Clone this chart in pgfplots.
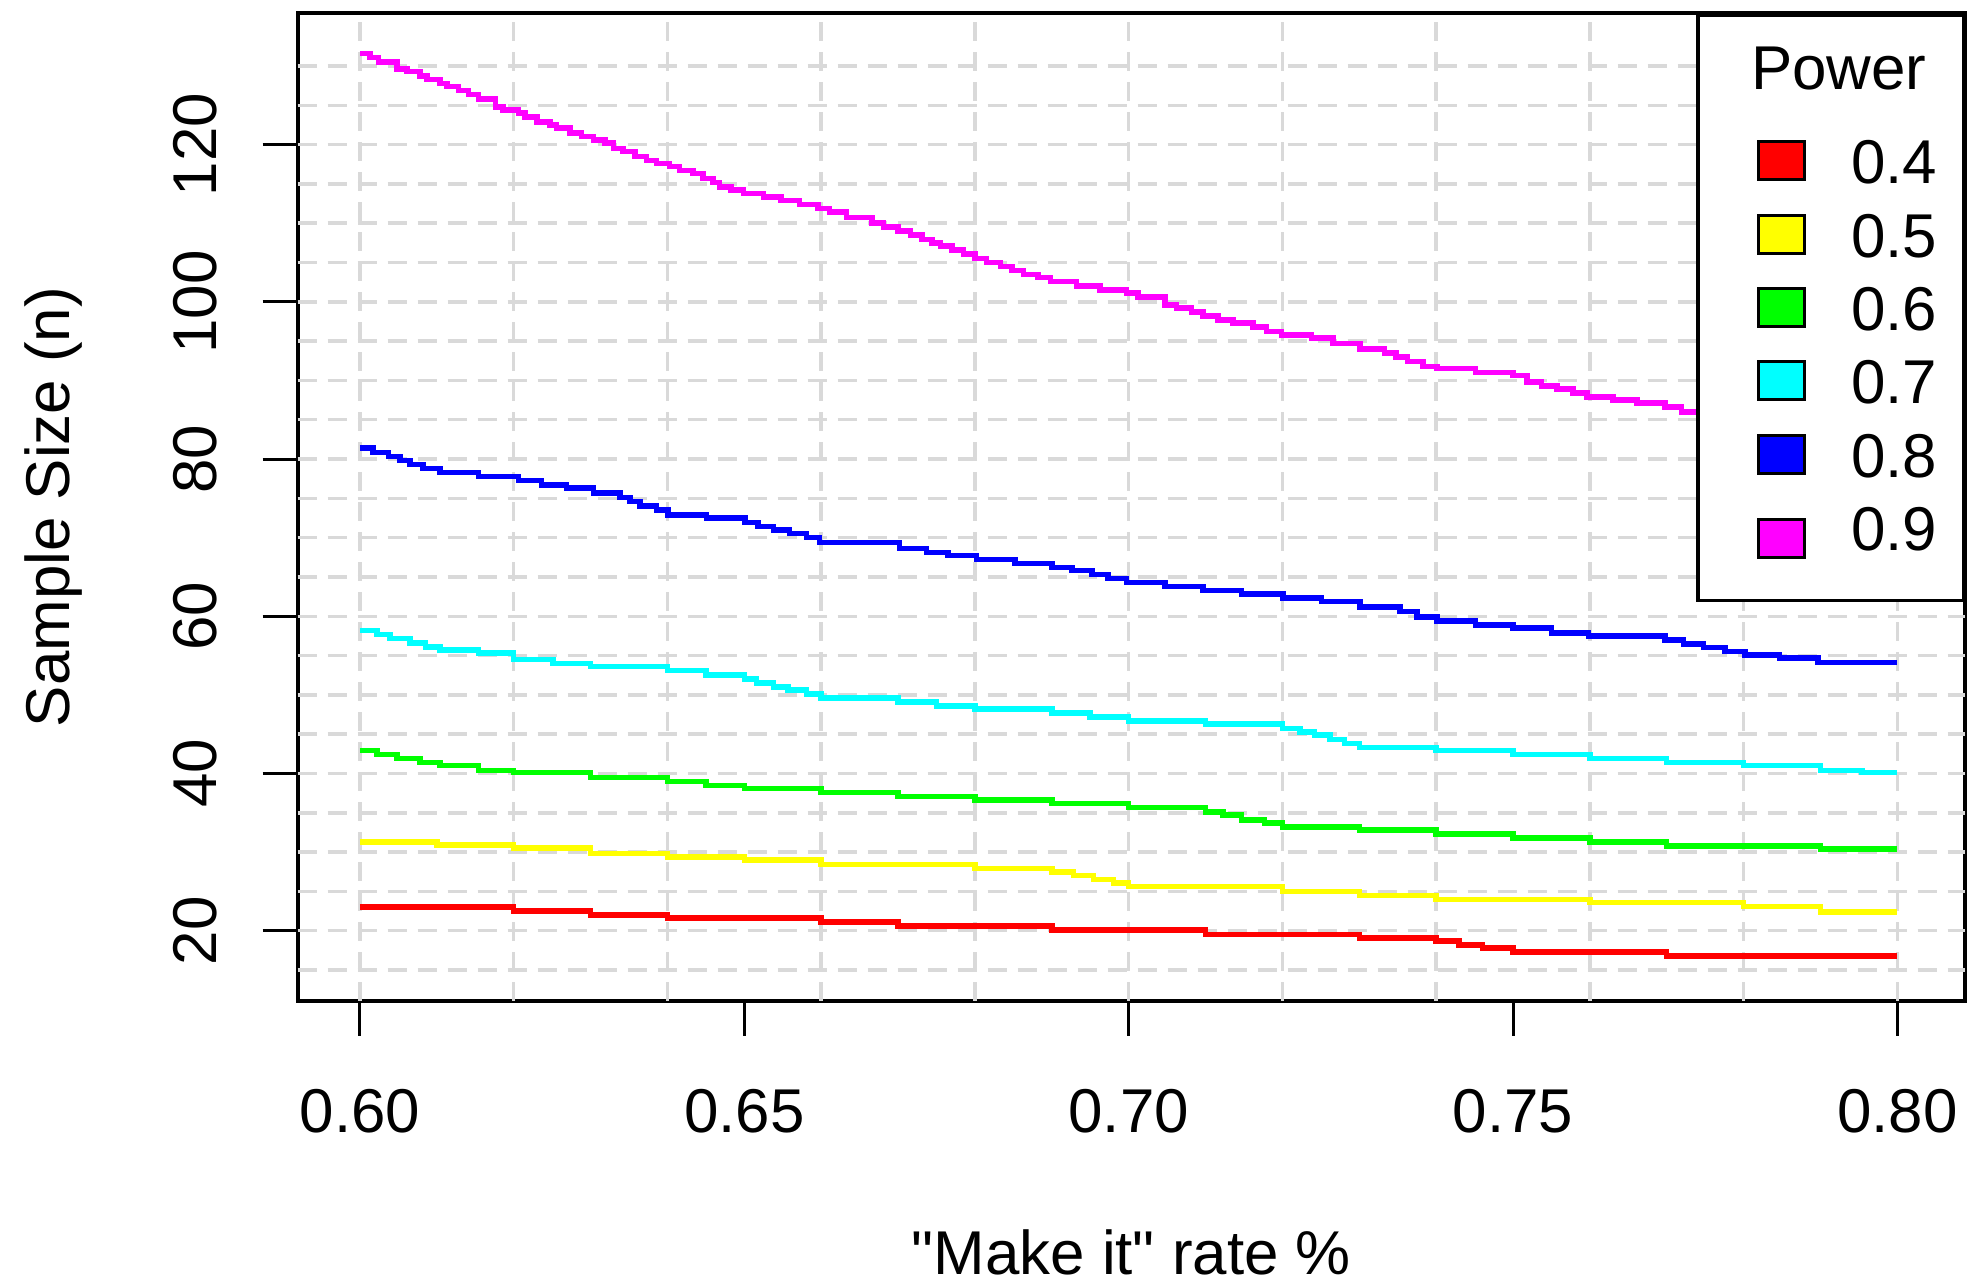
\documentclass[border=0pt]{standalone}
\usepackage{fontspec}
\setmainfont{Liberation Sans}
\newfontfamily\plainf[Ligatures=TeXOff]{Liberation Sans}
\usepackage{pgfplots}
\pgfplotsset{compat=1.18}
\newcommand\bigf{\fontsize{17.6}{21}\selectfont}
\definecolor{rred}{RGB}{255,0,0}
\definecolor{ryellow}{RGB}{255,255,0}
\definecolor{rgreen}{RGB}{0,255,0}
\definecolor{rcyan}{RGB}{0,255,255}
\definecolor{rblue}{RGB}{0,0,255}
\definecolor{rmagenta}{RGB}{255,0,255}

% one style per power curve: step line + filled square in the legend
\pgfplotsset{
  pw/.style={const plot, line width=0.055cm, #1,
    legend image code/.code={\path (-0.32cm,0);
      \draw[line width=0.03cm, draw=black, fill=#1] (0cm,-0.19cm) rectangle (0.46cm,0.19cm);}},
}

\begin{document}
\begin{tikzpicture}
\begin{axis}[
  at={(0,0)}, anchor=south west,
  scale only axis, width=16.673cm, height=9.874cm,
  xmin=0.5919, xmax=0.8088, ymin=11.1, ymax=136.7,
  axis line style={line width=0.04cm},
  tick align=outside, xtick pos=bottom, ytick pos=left,
  major tick length=0.35cm,
  tick style={line width=0.03cm, black},
  xtick={0.60,0.65,0.70,0.75,0.80},
  xticklabels={0.60,0.65,0.70,0.75,0.80},
  ytick={20,40,60,80,100,120},
  yticklabels={20,40,60,80,100,120},
  xticklabel style={font=\bigf, inner sep=0pt, text height=0.46cm, text depth=0pt, anchor=north},
  xticklabel shift=0.5cm,
  yticklabel style={font=\bigf, inner sep=0pt, text height=0.46cm, text depth=0pt, rotate=90, anchor=south},
  yticklabel shift=0.457cm,
  extra x ticks={0.60,0.62,0.64,0.66,0.68,0.70,0.72,0.74,0.76,0.78,0.80},
  extra y ticks={15,20,25,30,35,40,45,50,55,60,65,70,75,80,85,90,95,100,105,110,115,120,125,130},
  extra x tick labels={}, extra y tick labels={},
  extra tick style={grid=major, major tick length=0pt, tick style={draw=none}},
  major grid style={gray!30, line width=0.035cm, dash pattern=on 0.19cm off 0.11cm},
  xlabel={{\plainf "Make it" rate \%}},
  ylabel={Sample Size (n)},
  every axis x label/.style={at={(axis description cs:0.5,-0.277)}, anchor=base, font=\bigf},
  every axis y label/.style={at={(axis description cs:-0.1366,0.5)}, rotate=90, anchor=base, font=\bigf},
  legend cell align=left,
  legend style={at={(rel axis cs:1,1)}, anchor=north east, draw=black, line width=0.035cm,
    fill=white, inner xsep=0.26cm, inner ysep=0.28cm, row sep=0.274cm, column sep=0.45cm,
    font=\bigf, nodes={inner sep=0pt, text height=0.46cm, text depth=0pt}},
]
\addlegendimage{empty legend}
\addlegendentry[text depth=0.213cm]{\hspace*{-1.0cm}Power}

\addplot[pw=rred] coordinates {
(0.600,23.0)(0.620,22.5)(0.630,22.0)(0.640,21.6)(0.660,21.1)(0.670,20.6)(0.690,20.1)
(0.710,19.5)(0.730,19.1)(0.740,18.7)(0.743,18.2)(0.746,17.8)(0.750,17.3)(0.770,16.8)(0.800,16.8)};
\addlegendentry{0.4}

\addplot[pw=ryellow] coordinates {
(0.600,31.3)(0.610,30.9)(0.620,30.5)(0.630,29.8)(0.640,29.4)(0.650,29.0)(0.660,28.4)
(0.680,27.9)(0.690,27.5)(0.6928,27.0)(0.6954,26.5)(0.698,26.1)(0.700,25.6)(0.720,25.0)
(0.730,24.5)(0.740,24.0)(0.760,23.6)(0.780,23.1)(0.790,22.4)(0.800,22.4)};
\addlegendentry{0.5}

\addplot[pw=rgreen] coordinates {
(0.600,42.9)(0.6022,42.4)(0.6048,41.9)(0.6078,41.4)(0.6104,41.0)(0.6154,40.4)(0.620,40.1)
(0.630,39.5)(0.640,39.0)(0.645,38.5)(0.650,38.1)(0.660,37.6)(0.670,37.1)(0.680,36.6)
(0.690,36.2)(0.700,35.7)(0.710,35.1)(0.7123,34.7)(0.7147,34.1)(0.7177,33.7)(0.720,33.2)
(0.730,32.8)(0.740,32.3)(0.750,31.8)(0.760,31.3)(0.770,30.8)(0.790,30.4)(0.800,30.4)};
\addlegendentry{0.6}

\addplot[pw=rcyan] coordinates {
(0.600,58.2)(0.6022,57.7)(0.6039,57.2)(0.6065,56.6)(0.6085,56.1)(0.6104,55.7)(0.6154,55.3)
(0.620,54.5)(0.6251,54.0)(0.630,53.6)(0.640,53.1)(0.645,52.5)(0.650,52.0)(0.6516,51.5)
(0.6538,51.0)(0.6557,50.6)(0.6581,50.1)(0.660,49.6)(0.670,49.1)(0.675,48.6)(0.680,48.2)
(0.690,47.7)(0.695,47.2)(0.700,46.7)(0.710,46.3)(0.720,45.7)(0.7223,45.3)(0.7242,44.9)
(0.7262,44.3)(0.7281,43.8)(0.730,43.3)(0.740,42.9)(0.750,42.4)(0.760,41.9)(0.770,41.4)
(0.780,41.0)(0.790,40.4)(0.7954,40.1)(0.800,40.1)};
\addlegendentry{0.7}

\addplot[pw=rblue] coordinates {
(0.600,81.4)(0.6017,80.8)(0.6037,80.3)(0.6052,79.8)(0.6065,79.3)(0.6082,78.8)(0.6104,78.3)
(0.6154,77.8)(0.6206,77.3)(0.6236,76.7)(0.6269,76.3)(0.6304,75.7)(0.6338,75.1)(0.6351,74.6)
(0.6364,74.0)(0.6386,73.5)(0.6401,72.9)(0.6451,72.5)(0.6501,71.9)(0.6518,71.4)(0.6538,71.0)
(0.6559,70.5)(0.6581,70.0)(0.6598,69.4)(0.6702,68.6)(0.6737,68.1)(0.6765,67.7)(0.6802,67.2)
(0.6852,66.7)(0.6900,66.2)(0.6926,65.8)(0.6952,65.3)(0.6973,64.8)(0.6997,64.3)(0.7047,63.8)
(0.7097,63.3)(0.7147,62.8)(0.7201,62.3)(0.7251,61.9)(0.7301,61.2)(0.7353,60.6)(0.7375,59.9)
(0.7401,59.4)(0.7451,58.9)(0.7500,58.5)(0.7550,57.9)(0.7598,57.5)(0.7698,57.0)(0.7722,56.5)
(0.7748,56.0)(0.7776,55.5)(0.7802,55.1)(0.7847,54.7)(0.7897,54.1)(0.800,54.1)};
\addlegendentry{0.8}

\addplot[pw=rmagenta] coordinates {
(0.6000,131.6)(0.6013,131.1)(0.6024,130.5)(0.6048,129.6)(0.6061,129.3)(0.6078,128.7)
(0.6087,128.3)(0.6104,127.8)(0.6113,127.4)(0.6128,126.9)(0.6141,126.4)(0.6154,125.8)
(0.6176,124.8)(0.6186,124.4)(0.6206,124.0)(0.6215,123.5)(0.6230,122.9)(0.6247,122.5)
(0.6256,122.1)(0.6273,121.5)(0.6288,121.0)(0.6304,120.6)(0.6319,120.2)(0.6330,119.5)
(0.6342,119.1)(0.6358,118.5)(0.6373,118.0)(0.6386,117.6)(0.6403,117.2)(0.6416,116.7)
(0.6433,116.3)(0.6446,115.7)(0.6459,115.2)(0.6468,114.6)(0.6483,114.2)(0.6499,113.8)
(0.6525,113.3)(0.6548,112.9)(0.6572,112.4)(0.6596,111.9)(0.6611,111.4)(0.6633,110.7)
(0.6666,110.0)(0.6681,109.5)(0.6700,109.0)(0.6716,108.5)(0.6731,107.9)(0.6744,107.5)
(0.6755,107.1)(0.6770,106.6)(0.6785,106.1)(0.6800,105.5)(0.6815,105.0)(0.6833,104.5)
(0.6848,104.0)(0.6863,103.5)(0.6882,103.1)(0.6898,102.6)(0.6932,102.0)(0.6963,101.5)
(0.6997,101.1)(0.7012,100.6)(0.7047,99.6)(0.7062,99.2)(0.7082,98.7)(0.7097,98.2)
(0.7116,97.7)(0.7136,97.3)(0.7162,96.8)(0.7179,96.2)(0.7199,95.8)(0.7238,95.4)
(0.7266,94.7)(0.7301,94.0)(0.7333,93.5)(0.7348,93.0)(0.7363,92.4)(0.7383,91.8)
(0.7401,91.5)(0.7451,91.0)(0.7500,90.6)(0.7518,89.8)(0.7537,89.3)(0.7557,88.9)
(0.7578,88.4)(0.7596,87.9)(0.7630,87.5)(0.7661,87.1)(0.7698,86.6)(0.7719,86.0)
(0.7750,85.5)(0.7800,85.0)(0.7850,84.2)(0.7900,83.5)(0.7950,82.8)(0.8000,82.8)};
\addlegendentry[text depth=0.22cm]{0.9}

\coordinate (bl) at (rel axis cs:0,0);
\coordinate (tr) at (rel axis cs:1,1);
\end{axis}
\pgfresetboundingbox
\path ([shift={(-2.977cm,-2.843cm)}]bl) rectangle ([shift={(0.08cm,0.133cm)}]tr);
\end{tikzpicture}
\end{document}
